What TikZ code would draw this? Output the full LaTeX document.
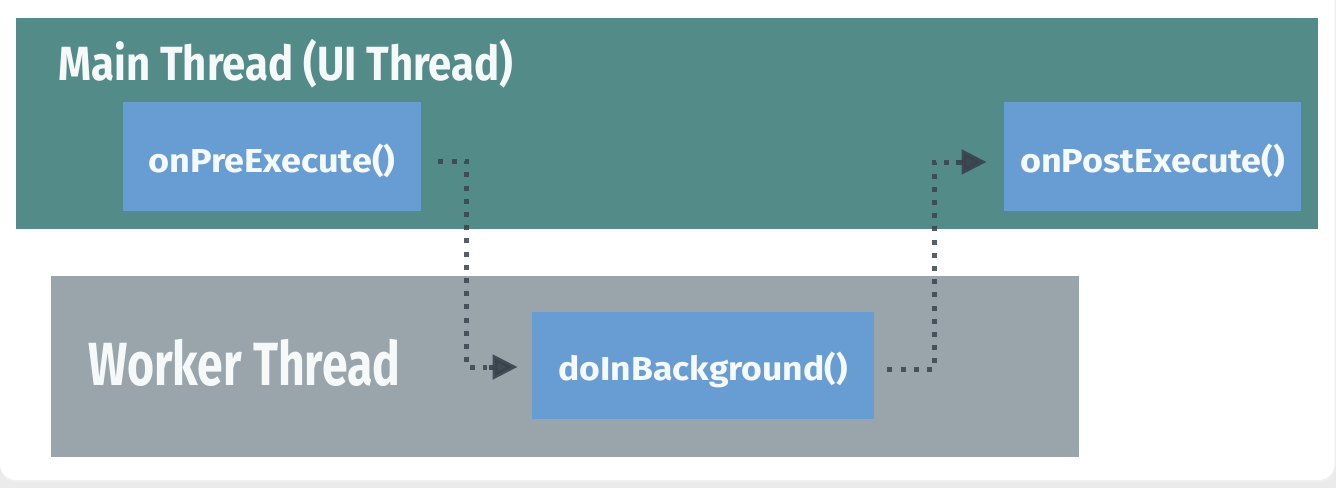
\documentclass[tikz,border=0pt]{standalone}
\usepackage{fontspec}
\setmainfont{Fira Sans}
\usetikzlibrary{arrows.meta,calc}
\definecolor{tealA}{HTML}{538B88}
\definecolor{grayA}{HTML}{9AA4AB}
\definecolor{blueA}{HTML}{689DD3}
\definecolor{txtA}{HTML}{F6F9FA}
\definecolor{dotA}{HTML}{39434D}
\definecolor{stripA}{HTML}{EBEBEB}
\newcommand{\fitw}[2]{\resizebox{#1}{\height}{#2}}
\begin{document}
\begin{tikzpicture}[x=0.5pt,y=-0.5pt,
  lane/.style={draw=none, inner sep=0pt, anchor=north west},
  fnbox/.style={fill=blueA, draw=none, inner sep=0pt, text=txtA,
    font=\bfseries\fontsize{16.6}{18}\selectfont},
  lanetitle/.style={anchor=base west, inner sep=0pt, text=txtA},
  dotline/.style={draw=dotA, opacity=0.85, line width=2.5pt, line cap=butt,
    dash pattern=on 2.5pt off 4.1pt},
  headarrow/.style={draw=dotA, fill=dotA, opacity=0.9, line width=2.5pt,
    -{Triangle[length=12.5pt,width=12pt]}}
]
\useasboundingbox (0,0) rectangle (1336,488);
% page background and card
\fill[stripA] (0,0) rectangle (1336,488);
\fill[black!6, rounded corners=8pt] (0,-20) rectangle (1335.5,482);
\fill[white, rounded corners=8pt] (0,-20) rectangle (1334.5,480);
% lanes
\node[lane, fill=tealA, minimum width=651pt, minimum height=105.5pt] (main) at (16,18) {};
\node[lane, fill=grayA, minimum width=514pt, minimum height=90.5pt] (worker) at (51,276) {};
% lane titles
\node[lanetitle, font=\bfseries\fontsize{24}{28}\selectfont] (maintitle) at (58,80)
  {\fitw{227.5pt}{Main Thread (UI Thread)}};
\node[lanetitle, font=\bfseries\fontsize{30.5}{34}\selectfont] (workertitle) at (88,385)
  {\fitw{156pt}{Worker Thread}};
% method boxes
\node[fnbox, minimum width=149pt, minimum height=54.5pt, text height=17.5pt, text depth=2pt]
  (pre) at (272,156.5) {\fitw{123.5pt}{onPreExecute()}};
\node[fnbox, minimum width=148.5pt, minimum height=54.5pt, text height=17.5pt, text depth=2pt]
  (post) at (1152.5,156.5) {\fitw{132.5pt}{onPostExecute()}};
\node[fnbox, minimum width=171pt, minimum height=53.5pt, text height=16.5pt, text depth=2pt]
  (bg) at (703,365.5) {\fitw{144.5pt}{doInBackground()}};
% connectors
\draw[dotline] ($(pre.east)+(17,4.5)$) -| ($(bg.west)+(-65,1.5)$) -- ($(bg.west)+(-45,1.5)$);
\draw[headarrow] ($(bg.west)+(-43,1.5)$) -- ($(bg.west)+(-14,1.5)$);
\draw[dotline] ($(bg.east)+(13,3.5)$) -| ($(post.west)+(-69,5.5)$) -- ($(post.west)+(-50,5.5)$);
\draw[headarrow] ($(post.west)+(-48,5.5)$) -- ($(post.west)+(-17,5.5)$);
\end{tikzpicture}
\end{document}
